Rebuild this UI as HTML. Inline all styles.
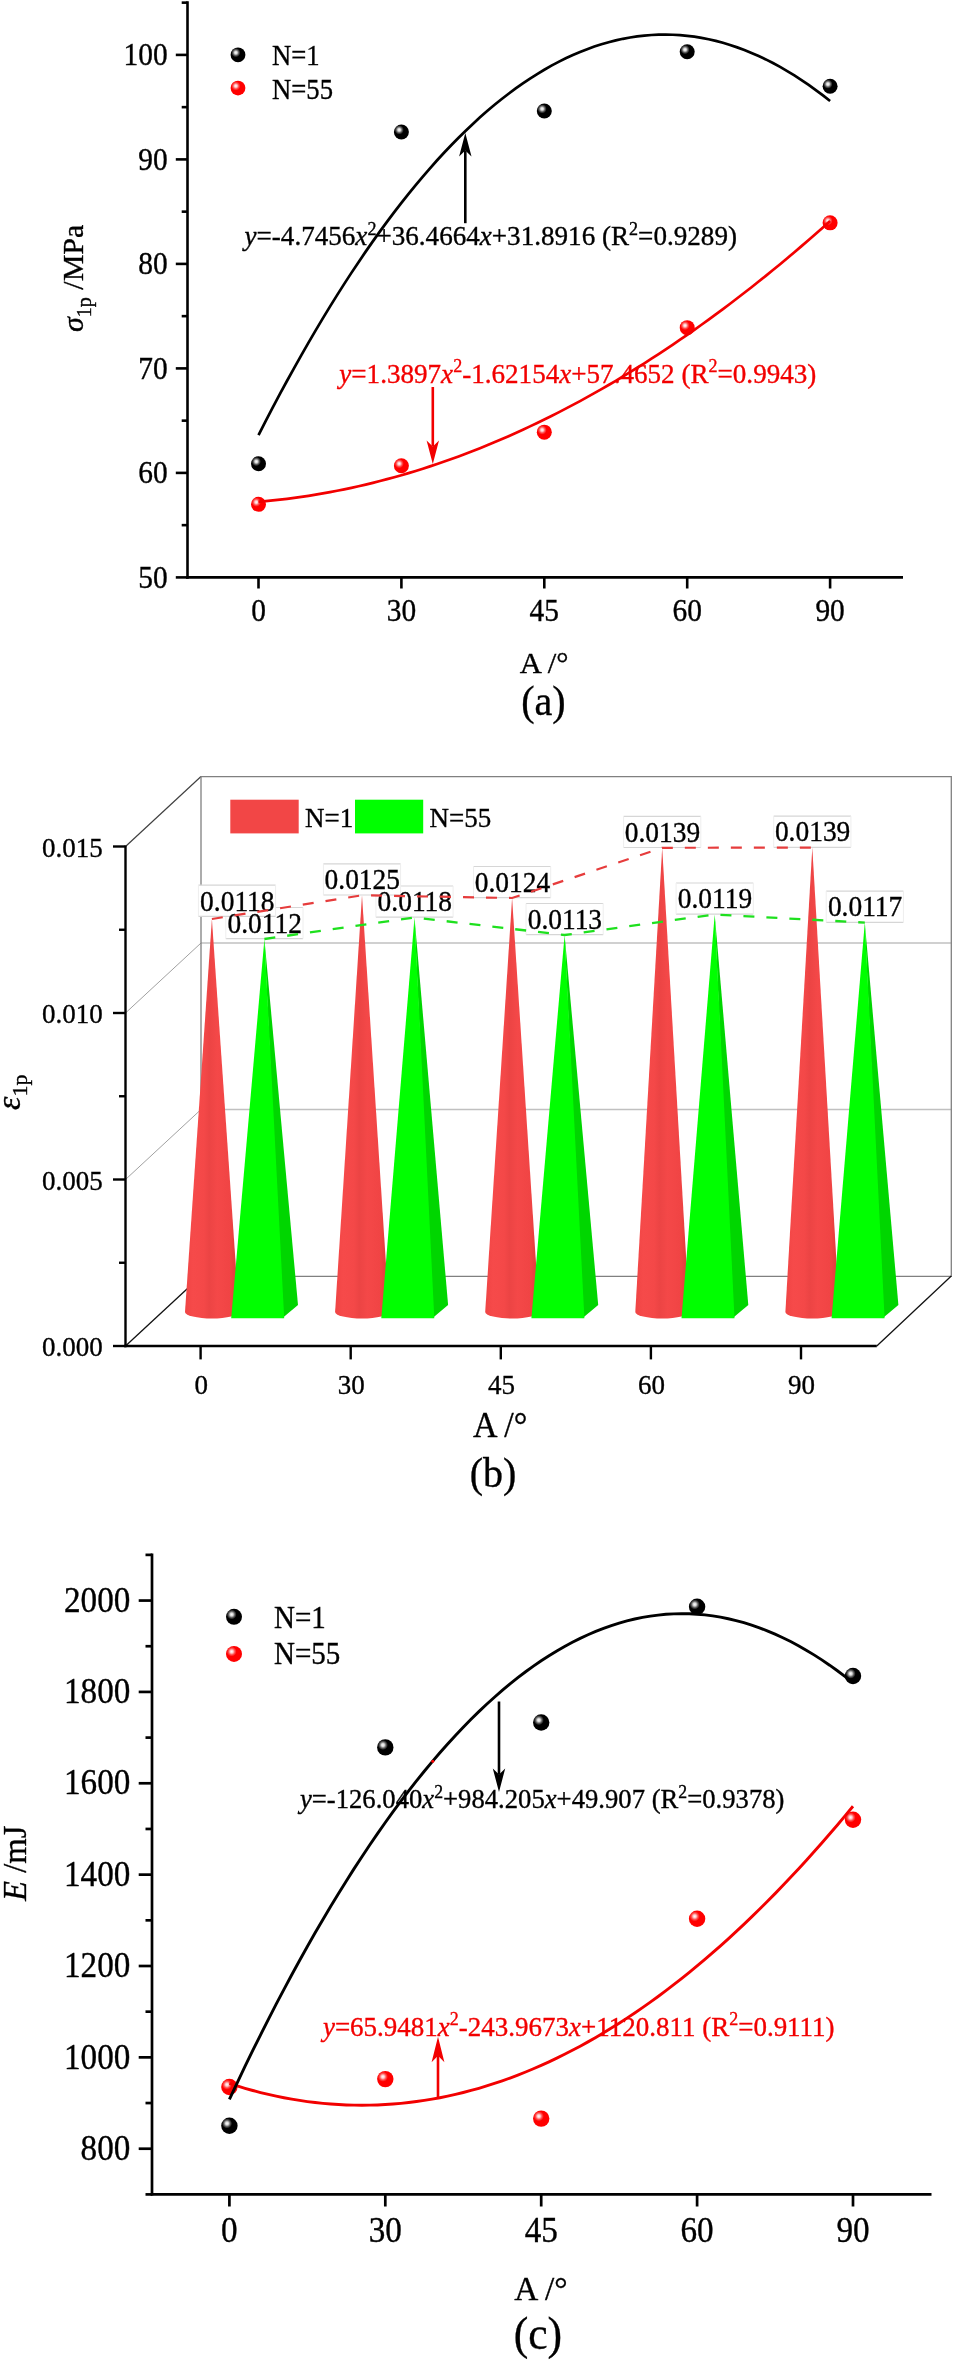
<!DOCTYPE html><html><head><meta charset="utf-8"><style>html,body{margin:0;padding:0;background:#fff;}svg{display:block;}text{font-family:'Liberation Serif', serif;stroke-width:0.35px;}svg{will-change:transform;}</style></head><body>
<svg width="954" height="2360" viewBox="0 0 954 2360">
<defs>
<radialGradient id="gHiK"><stop offset="0" stop-color="#fff" stop-opacity="1"/><stop offset="0.3" stop-color="#fff" stop-opacity="0.85"/><stop offset="0.65" stop-color="#fff" stop-opacity="0.35"/><stop offset="1" stop-color="#fff" stop-opacity="0"/></radialGradient>
<radialGradient id="gHiR"><stop offset="0" stop-color="#fff" stop-opacity="1"/><stop offset="0.3" stop-color="#fff" stop-opacity="0.8"/><stop offset="0.65" stop-color="#fff" stop-opacity="0.3"/><stop offset="1" stop-color="#fff" stop-opacity="0"/></radialGradient>
<linearGradient id="gCone" x1="0" y1="0" x2="1" y2="0">
<stop offset="0" stop-color="#f04444"/><stop offset="0.15" stop-color="#f64a4a"/><stop offset="0.35" stop-color="#f44848"/><stop offset="0.45" stop-color="#ec4444"/><stop offset="0.6" stop-color="#f44848"/><stop offset="0.85" stop-color="#f04444"/><stop offset="1" stop-color="#d83838"/></linearGradient>
</defs>
<line x1="187.5" y1="1.3" x2="187.5" y2="578.7" stroke="#000" stroke-width="2.6"/>
<line x1="186.2" y1="577.4" x2="903" y2="577.4" stroke="#000" stroke-width="2.6"/>
<line x1="175.8" y1="577.40" x2="187.5" y2="577.40" stroke="#000" stroke-width="2.6"/>
<text transform="translate(167.60,587.50) scale(0.98,1.075)" font-size="30" text-anchor="end" stroke="#000">50</text>
<line x1="181.7" y1="525.15" x2="187.5" y2="525.15" stroke="#000" stroke-width="2.6"/>
<line x1="175.8" y1="472.90" x2="187.5" y2="472.90" stroke="#000" stroke-width="2.6"/>
<text transform="translate(167.60,483.00) scale(0.98,1.075)" font-size="30" text-anchor="end" stroke="#000">60</text>
<line x1="181.7" y1="420.65" x2="187.5" y2="420.65" stroke="#000" stroke-width="2.6"/>
<line x1="175.8" y1="368.40" x2="187.5" y2="368.40" stroke="#000" stroke-width="2.6"/>
<text transform="translate(167.60,378.50) scale(0.98,1.075)" font-size="30" text-anchor="end" stroke="#000">70</text>
<line x1="181.7" y1="316.15" x2="187.5" y2="316.15" stroke="#000" stroke-width="2.6"/>
<line x1="175.8" y1="263.90" x2="187.5" y2="263.90" stroke="#000" stroke-width="2.6"/>
<text transform="translate(167.60,274.00) scale(0.98,1.075)" font-size="30" text-anchor="end" stroke="#000">80</text>
<line x1="181.7" y1="211.65" x2="187.5" y2="211.65" stroke="#000" stroke-width="2.6"/>
<line x1="175.8" y1="159.40" x2="187.5" y2="159.40" stroke="#000" stroke-width="2.6"/>
<text transform="translate(167.60,169.50) scale(0.98,1.075)" font-size="30" text-anchor="end" stroke="#000">90</text>
<line x1="181.7" y1="107.15" x2="187.5" y2="107.15" stroke="#000" stroke-width="2.6"/>
<line x1="175.8" y1="54.90" x2="187.5" y2="54.90" stroke="#000" stroke-width="2.6"/>
<text transform="translate(167.60,65.00) scale(0.98,1.075)" font-size="30" text-anchor="end" stroke="#000">100</text>
<line x1="181.7" y1="2.65" x2="187.5" y2="2.65" stroke="#000" stroke-width="2.6"/>
<line x1="258.50" y1="577.4" x2="258.50" y2="588.5" stroke="#000" stroke-width="2.6"/>
<text transform="translate(258.50,620.90) scale(0.98,1.075)" font-size="30" text-anchor="middle" stroke="#000">0</text>
<line x1="401.40" y1="577.4" x2="401.40" y2="588.5" stroke="#000" stroke-width="2.6"/>
<text transform="translate(401.40,620.90) scale(0.98,1.075)" font-size="30" text-anchor="middle" stroke="#000">30</text>
<line x1="544.30" y1="577.4" x2="544.30" y2="588.5" stroke="#000" stroke-width="2.6"/>
<text transform="translate(544.30,620.90) scale(0.98,1.075)" font-size="30" text-anchor="middle" stroke="#000">45</text>
<line x1="687.20" y1="577.4" x2="687.20" y2="588.5" stroke="#000" stroke-width="2.6"/>
<text transform="translate(687.20,620.90) scale(0.98,1.075)" font-size="30" text-anchor="middle" stroke="#000">60</text>
<line x1="830.10" y1="577.4" x2="830.10" y2="588.5" stroke="#000" stroke-width="2.6"/>
<text transform="translate(830.10,620.90) scale(0.98,1.075)" font-size="30" text-anchor="middle" stroke="#000">90</text>
<circle cx="258.50" cy="463.70" r="7.5" fill="#000"/><circle cx="256.32" cy="461.53" r="4.65" fill="url(#gHiK)"/>
<circle cx="401.40" cy="132.02" r="7.5" fill="#000"/><circle cx="399.22" cy="129.85" r="4.65" fill="url(#gHiK)"/>
<circle cx="544.30" cy="111.02" r="7.5" fill="#000"/><circle cx="542.12" cy="108.84" r="4.65" fill="url(#gHiK)"/>
<circle cx="687.20" cy="51.76" r="7.5" fill="#000"/><circle cx="685.03" cy="49.59" r="4.65" fill="url(#gHiK)"/>
<circle cx="830.10" cy="86.25" r="7.5" fill="#000"/><circle cx="827.93" cy="84.08" r="4.65" fill="url(#gHiK)"/>
<circle cx="258.50" cy="504.35" r="7.5" fill="#ff0000"/><circle cx="256.32" cy="502.18" r="4.65" fill="url(#gHiR)"/>
<circle cx="401.40" cy="465.79" r="7.5" fill="#ff0000"/><circle cx="399.22" cy="463.62" r="4.65" fill="url(#gHiR)"/>
<circle cx="544.30" cy="432.14" r="7.5" fill="#ff0000"/><circle cx="542.12" cy="429.97" r="4.65" fill="url(#gHiR)"/>
<circle cx="687.20" cy="327.64" r="7.5" fill="#ff0000"/><circle cx="685.03" cy="325.47" r="4.65" fill="url(#gHiR)"/>
<circle cx="830.10" cy="222.83" r="7.5" fill="#ff0000"/><circle cx="827.93" cy="220.66" r="4.65" fill="url(#gHiR)"/>
<path d="M258.50,435.15 L265.64,421.18 L272.79,407.46 L279.94,393.98 L287.08,380.76 L294.23,367.78 L301.37,355.05 L308.51,342.56 L315.66,330.33 L322.81,318.34 L329.95,306.60 L337.10,295.11 L344.24,283.87 L351.38,272.87 L358.53,262.13 L365.68,251.63 L372.82,241.38 L379.97,231.37 L387.11,221.62 L394.25,212.11 L401.40,202.85 L408.54,193.84 L415.69,185.08 L422.84,176.56 L429.98,168.29 L437.12,160.27 L444.27,152.50 L451.42,144.98 L458.56,137.70 L465.71,130.67 L472.85,123.90 L480.00,117.36 L487.14,111.08 L494.28,105.04 L501.43,99.26 L508.58,93.72 L515.72,88.42 L522.87,83.38 L530.01,78.58 L537.15,74.04 L544.30,69.73 L551.44,65.68 L558.59,61.88 L565.74,58.32 L572.88,55.01 L580.03,51.95 L587.17,49.14 L594.32,46.58 L601.46,44.26 L608.61,42.19 L615.75,40.37 L622.89,38.80 L630.04,37.47 L637.18,36.40 L644.33,35.57 L651.48,34.99 L658.62,34.65 L665.77,34.57 L672.91,34.73 L680.06,35.14 L687.20,35.80 L694.35,36.71 L701.49,37.86 L708.63,39.27 L715.78,40.92 L722.92,42.82 L730.07,44.96 L737.21,47.36 L744.36,50.00 L751.51,52.89 L758.65,56.03 L765.80,59.42 L772.94,63.05 L780.09,66.93 L787.23,71.06 L794.38,75.44 L801.52,80.07 L808.66,84.94 L815.81,90.06 L822.96,95.43 L830.10,101.05" fill="none" stroke="#000" stroke-width="2.7" />
<path d="M258.50,501.81 L265.64,501.17 L272.79,500.46 L279.94,499.67 L287.08,498.81 L294.23,497.88 L301.37,496.87 L308.51,495.80 L315.66,494.65 L322.81,493.43 L329.95,492.13 L337.10,490.76 L344.24,489.32 L351.38,487.81 L358.53,486.23 L365.68,484.57 L372.82,482.84 L379.97,481.03 L387.11,479.16 L394.25,477.21 L401.40,475.19 L408.54,473.10 L415.69,470.93 L422.84,468.69 L429.98,466.38 L437.12,464.00 L444.27,461.54 L451.42,459.01 L458.56,456.41 L465.71,453.73 L472.85,450.99 L480.00,448.17 L487.14,445.27 L494.28,442.31 L501.43,439.27 L508.58,436.16 L515.72,432.98 L522.87,429.72 L530.01,426.40 L537.15,423.00 L544.30,419.52 L551.44,415.98 L558.59,412.36 L565.74,408.67 L572.88,404.90 L580.03,401.07 L587.17,397.16 L594.32,393.18 L601.46,389.12 L608.61,385.00 L615.75,380.80 L622.89,376.53 L630.04,372.18 L637.18,367.76 L644.33,363.27 L651.48,358.71 L658.62,354.08 L665.77,349.37 L672.91,344.59 L680.06,339.74 L687.20,334.81 L694.35,329.81 L701.49,324.74 L708.63,319.60 L715.78,314.38 L722.92,309.10 L730.07,303.73 L737.21,298.30 L744.36,292.79 L751.51,287.22 L758.65,281.56 L765.80,275.84 L772.94,270.04 L780.09,264.17 L787.23,258.23 L794.38,252.22 L801.52,246.13 L808.66,239.97 L815.81,233.74 L822.96,227.43 L830.10,221.06" fill="none" stroke="#f20000" stroke-width="2.7" />
<circle cx="238.00" cy="54.80" r="7.4" fill="#000"/><circle cx="235.85" cy="52.65" r="4.59" fill="url(#gHiK)"/>
<circle cx="238.00" cy="88.10" r="7.4" fill="#ff0000"/><circle cx="235.85" cy="85.95" r="4.59" fill="url(#gHiR)"/>
<text transform="translate(272.00,65.20) scale(0.92,1.0)" font-size="29" stroke="#000">N=1</text>
<text transform="translate(272.00,98.70) scale(0.92,1.0)" font-size="29" stroke="#000">N=55</text>
<text transform="translate(244.50,245.40) scale(1.004,1.03)" font-size="27" stroke="#000"><tspan font-style="italic">y</tspan><tspan>=-4.7456</tspan><tspan font-style="italic">x</tspan><tspan font-size="18" dy="-10">2</tspan><tspan dy="10">+36.4664</tspan><tspan font-style="italic">x</tspan><tspan>+31.8916 (R</tspan><tspan font-size="18" dy="-10">2</tspan><tspan dy="10">=0.9289)</tspan></text>
<line x1="465.3" y1="223.2" x2="465.3" y2="150.5" stroke="#000" stroke-width="2.6"/><path d="M465.3,133 L459.1,156.5 L465.3,150.5 L471.5,156.5 Z" fill="#000"/>
<text transform="translate(339.30,382.70) scale(1.004,1.05)" font-size="27" fill="#f20000" stroke="#f20000"><tspan font-style="italic">y</tspan><tspan>=1.3897</tspan><tspan font-style="italic">x</tspan><tspan font-size="18" dy="-10">2</tspan><tspan dy="10">-1.62154</tspan><tspan font-style="italic">x</tspan><tspan>+57.4652 (R</tspan><tspan font-size="18" dy="-10">2</tspan><tspan dy="10">=0.9943)</tspan></text>
<line x1="432.8" y1="387" x2="432.8" y2="446.4" stroke="#f20000" stroke-width="2.6"/><path d="M432.8,463.9 L426.6,440.4 L432.8,446.4 L439.0,440.4 Z" fill="#f20000"/>
<text transform="translate(83.00,332.00) rotate(-90)" font-size="30" stroke="#000"><tspan font-style="italic">σ</tspan><tspan font-size="20" dy="8">1p</tspan><tspan dy="-8"> /MPa</tspan></text>
<text transform="translate(544.10,673.20) scale(1.02,1.0)" font-size="30" text-anchor="middle" stroke="#000">A /°</text>
<text transform="translate(543.40,715.40) scale(0.96,1.0)" font-size="41.7" text-anchor="middle" stroke="#000">(a)</text>
<line x1="125.5" y1="1179.5" x2="201.0" y2="1109.5" stroke="#a0a0a0" stroke-width="1.0"/>
<line x1="201.0" y1="1109.5" x2="951.3" y2="1109.5" stroke="#c0c0c0" stroke-width="1.4"/>
<line x1="125.5" y1="1013.0" x2="201.0" y2="943.0" stroke="#a0a0a0" stroke-width="1.0"/>
<line x1="201.0" y1="943.0" x2="951.3" y2="943.0" stroke="#c0c0c0" stroke-width="1.4"/>
<line x1="125.5" y1="846.5" x2="201.0" y2="776.5" stroke="#404040" stroke-width="1.2"/>
<path d="M201.0,776.6 H951.3 V1276.4 H201.0 Z" fill="none" stroke="#808080" stroke-width="1.3"/>
<line x1="125.5" y1="1346" x2="201.0" y2="1276" stroke="#111" stroke-width="1.3"/>
<line x1="876.8" y1="1346" x2="951.3" y2="1276" stroke="#111" stroke-width="1.3"/>
<line x1="125.5" y1="845.5" x2="125.5" y2="1347.2" stroke="#000" stroke-width="2.4"/>
<line x1="124.3" y1="1346" x2="876.8" y2="1346" stroke="#000" stroke-width="2.5"/>
<line x1="113.0" y1="1346.00" x2="125.5" y2="1346.00" stroke="#000" stroke-width="2.4"/>
<text transform="translate(102.80,1356.30) scale(1.0,1.02)" font-size="27" text-anchor="end" stroke="#000">0.000</text>
<line x1="119.0" y1="1262.75" x2="125.5" y2="1262.75" stroke="#000" stroke-width="2.4"/>
<line x1="113.0" y1="1179.50" x2="125.5" y2="1179.50" stroke="#000" stroke-width="2.4"/>
<text transform="translate(102.80,1189.80) scale(1.0,1.02)" font-size="27" text-anchor="end" stroke="#000">0.005</text>
<line x1="119.0" y1="1096.25" x2="125.5" y2="1096.25" stroke="#000" stroke-width="2.4"/>
<line x1="113.0" y1="1013.00" x2="125.5" y2="1013.00" stroke="#000" stroke-width="2.4"/>
<text transform="translate(102.80,1023.30) scale(1.0,1.02)" font-size="27" text-anchor="end" stroke="#000">0.010</text>
<line x1="119.0" y1="929.75" x2="125.5" y2="929.75" stroke="#000" stroke-width="2.4"/>
<line x1="113.0" y1="846.50" x2="125.5" y2="846.50" stroke="#000" stroke-width="2.4"/>
<text transform="translate(102.80,856.80) scale(1.0,1.02)" font-size="27" text-anchor="end" stroke="#000">0.015</text>
<line x1="200.60" y1="1346" x2="200.60" y2="1359.4" stroke="#000" stroke-width="2.4"/>
<text transform="translate(201.20,1393.90) scale(1.0,1.02)" font-size="27" text-anchor="middle" stroke="#000">0</text>
<line x1="350.70" y1="1346" x2="350.70" y2="1359.4" stroke="#000" stroke-width="2.4"/>
<text transform="translate(351.30,1393.90) scale(1.0,1.02)" font-size="27" text-anchor="middle" stroke="#000">30</text>
<line x1="500.80" y1="1346" x2="500.80" y2="1359.4" stroke="#000" stroke-width="2.4"/>
<text transform="translate(501.40,1393.90) scale(1.0,1.02)" font-size="27" text-anchor="middle" stroke="#000">45</text>
<line x1="650.90" y1="1346" x2="650.90" y2="1359.4" stroke="#000" stroke-width="2.4"/>
<text transform="translate(651.50,1393.90) scale(1.0,1.02)" font-size="27" text-anchor="middle" stroke="#000">60</text>
<line x1="801.00" y1="1346" x2="801.00" y2="1359.4" stroke="#000" stroke-width="2.4"/>
<text transform="translate(801.60,1393.90) scale(1.0,1.02)" font-size="27" text-anchor="middle" stroke="#000">90</text>
<path d="M211.9,919.0 L185.0,1311.9 A27.0,6.6 0 0 0 239.0,1311.9 Z" fill="url(#gCone)"/>
<path d="M264.4,939.0 L282.2,1318.3 L298.0,1305.0 Z" fill="#00d600"/>
<path d="M264.4,939.0 L231.2,1318.3 L284.2,1318.3 Z" fill="#00ff00"/>
<path d="M362.0,895.3 L335.1,1311.9 A27.0,6.6 0 0 0 389.1,1311.9 Z" fill="url(#gCone)"/>
<path d="M414.5,917.5 L432.3,1318.3 L448.1,1305.0 Z" fill="#00d600"/>
<path d="M414.5,917.5 L381.3,1318.3 L434.3,1318.3 Z" fill="#00ff00"/>
<path d="M512.1,898.0 L485.2,1311.9 A27.0,6.6 0 0 0 539.2,1311.9 Z" fill="url(#gCone)"/>
<path d="M564.6,935.0 L582.4,1318.3 L598.2,1305.0 Z" fill="#00d600"/>
<path d="M564.6,935.0 L531.4,1318.3 L584.4,1318.3 Z" fill="#00ff00"/>
<path d="M662.2,847.8 L635.3,1311.9 A27.0,6.6 0 0 0 689.3,1311.9 Z" fill="url(#gCone)"/>
<path d="M714.7,914.5 L732.5,1318.3 L748.3,1305.0 Z" fill="#00d600"/>
<path d="M714.7,914.5 L681.5,1318.3 L734.5,1318.3 Z" fill="#00ff00"/>
<path d="M812.3,847.6 L785.4,1311.9 A27.0,6.6 0 0 0 839.4,1311.9 Z" fill="url(#gCone)"/>
<path d="M864.8,922.6 L882.6,1318.3 L898.4,1305.0 Z" fill="#00d600"/>
<path d="M864.8,922.6 L831.6,1318.3 L884.6,1318.3 Z" fill="#00ff00"/>
<rect x="225.8" y="907.5" width="77.2" height="31.2" fill="#fff"/><path d="M225.8,907.5 H303.0 M225.8,938.7 H303.0" stroke="#d6d6d6" stroke-width="1.2" fill="none"/><path d="M225.8,907.5 V938.7 M303.0,907.5 V938.7" stroke="#eeeeee" stroke-width="1" fill="none"/>
<rect x="375.9" y="886.0" width="77.2" height="31.2" fill="#fff"/><path d="M375.9,886.0 H453.1 M375.9,917.2 H453.1" stroke="#d6d6d6" stroke-width="1.2" fill="none"/><path d="M375.9,886.0 V917.2 M453.1,886.0 V917.2" stroke="#eeeeee" stroke-width="1" fill="none"/>
<rect x="526.0" y="903.5" width="77.2" height="31.2" fill="#fff"/><path d="M526.0,903.5 H603.2 M526.0,934.7 H603.2" stroke="#d6d6d6" stroke-width="1.2" fill="none"/><path d="M526.0,903.5 V934.7 M603.2,903.5 V934.7" stroke="#eeeeee" stroke-width="1" fill="none"/>
<rect x="676.1" y="883.0" width="77.2" height="31.2" fill="#fff"/><path d="M676.1,883.0 H753.3 M676.1,914.2 H753.3" stroke="#d6d6d6" stroke-width="1.2" fill="none"/><path d="M676.1,883.0 V914.2 M753.3,883.0 V914.2" stroke="#eeeeee" stroke-width="1" fill="none"/>
<rect x="826.2" y="891.1" width="77.2" height="31.2" fill="#fff"/><path d="M826.2,891.1 H903.4 M826.2,922.3 H903.4" stroke="#d6d6d6" stroke-width="1.2" fill="none"/><path d="M826.2,891.1 V922.3 M903.4,891.1 V922.3" stroke="#eeeeee" stroke-width="1" fill="none"/>
<rect x="198.4" y="885.2" width="77.2" height="31.2" fill="#fff"/><path d="M198.4,885.2 H275.6 M198.4,916.4 H275.6" stroke="#d6d6d6" stroke-width="1.2" fill="none"/><path d="M198.4,885.2 V916.4 M275.6,885.2 V916.4" stroke="#eeeeee" stroke-width="1" fill="none"/>
<rect x="323.4" y="863.8" width="77.2" height="31.2" fill="#fff"/><path d="M323.4,863.8 H400.6 M323.4,895.0 H400.6" stroke="#d6d6d6" stroke-width="1.2" fill="none"/><path d="M323.4,863.8 V895.0 M400.6,863.8 V895.0" stroke="#eeeeee" stroke-width="1" fill="none"/>
<rect x="473.5" y="866.5" width="77.2" height="31.2" fill="#fff"/><path d="M473.5,866.5 H550.7 M473.5,897.7 H550.7" stroke="#d6d6d6" stroke-width="1.2" fill="none"/><path d="M473.5,866.5 V897.7 M550.7,866.5 V897.7" stroke="#eeeeee" stroke-width="1" fill="none"/>
<rect x="623.6" y="816.3" width="77.2" height="31.2" fill="#fff"/><path d="M623.6,816.3 H700.8 M623.6,847.5 H700.8" stroke="#d6d6d6" stroke-width="1.2" fill="none"/><path d="M623.6,816.3 V847.5 M700.8,816.3 V847.5" stroke="#eeeeee" stroke-width="1" fill="none"/>
<rect x="773.7" y="816.1" width="77.2" height="31.2" fill="#fff"/><path d="M773.7,816.1 H850.9 M773.7,847.3 H850.9" stroke="#d6d6d6" stroke-width="1.2" fill="none"/><path d="M773.7,816.1 V847.3 M850.9,816.1 V847.3" stroke="#eeeeee" stroke-width="1" fill="none"/>
<text transform="translate(264.70,932.80) scale(0.98,1.03)" font-size="28" text-anchor="middle" stroke="#000">0.0112</text>
<text transform="translate(414.80,911.30) scale(0.98,1.03)" font-size="28" text-anchor="middle" stroke="#000">0.0118</text>
<text transform="translate(564.90,928.80) scale(0.98,1.03)" font-size="28" text-anchor="middle" stroke="#000">0.0113</text>
<text transform="translate(715.00,908.30) scale(0.98,1.03)" font-size="28" text-anchor="middle" stroke="#000">0.0119</text>
<text transform="translate(865.10,916.40) scale(0.98,1.03)" font-size="28" text-anchor="middle" stroke="#000">0.0117</text>
<text transform="translate(237.30,910.50) scale(0.98,1.03)" font-size="28" text-anchor="middle" stroke="#000">0.0118</text>
<text transform="translate(362.30,889.10) scale(0.98,1.03)" font-size="28" text-anchor="middle" stroke="#000">0.0125</text>
<text transform="translate(512.40,891.80) scale(0.98,1.03)" font-size="28" text-anchor="middle" stroke="#000">0.0124</text>
<text transform="translate(662.50,841.60) scale(0.98,1.03)" font-size="28" text-anchor="middle" stroke="#000">0.0139</text>
<text transform="translate(812.60,841.40) scale(0.98,1.03)" font-size="28" text-anchor="middle" stroke="#000">0.0139</text>
<path d="M211.90,919.00 L362.00,895.30 L512.10,898.00 L662.20,847.80 L812.30,847.60" fill="none" stroke="#e63c3c" stroke-width="2.2" stroke-dasharray="11 12"/>
<path d="M264.40,939.00 L414.50,917.50 L564.60,935.00 L714.70,914.50 L864.80,922.60" fill="none" stroke="#1ee01e" stroke-width="2.3" stroke-dasharray="11 12"/>
<rect x="230.3" y="799.7" width="68.4" height="33.7" fill="#f24646"/>
<text transform="translate(305.00,826.80) scale(1.0,1.05)" font-size="27" stroke="#000">N=1</text>
<rect x="355" y="799.7" width="68.2" height="33.7" fill="#00ff00"/>
<text transform="translate(429.50,826.80) scale(1.0,1.05)" font-size="27" stroke="#000">N=55</text>
<text transform="translate(20.00,1110.00) rotate(-90)" font-size="34" stroke="#000"><tspan font-style="italic">ε</tspan><tspan font-size="22" dy="6.5">1p</tspan></text>
<text transform="translate(500.20,1437.00) scale(0.95,1.0)" font-size="35.8" text-anchor="middle" stroke="#000">A /°</text>
<text transform="translate(493.10,1487.00) scale(0.96,1.0)" font-size="41.7" text-anchor="middle" stroke="#000">(b)</text>
<line x1="152" y1="1553.4" x2="152" y2="2195.6" stroke="#000" stroke-width="2.7"/>
<line x1="150.7" y1="2194.4" x2="931.5" y2="2194.4" stroke="#000" stroke-width="2.7"/>
<line x1="145.5" y1="2194.40" x2="152" y2="2194.40" stroke="#000" stroke-width="2.7"/>
<line x1="138.7" y1="2148.72" x2="152" y2="2148.72" stroke="#000" stroke-width="2.7"/>
<text transform="translate(130.30,2159.92) scale(0.99,1.075)" font-size="33.5" text-anchor="end" stroke="#000">800</text>
<line x1="145.5" y1="2103.04" x2="152" y2="2103.04" stroke="#000" stroke-width="2.7"/>
<line x1="138.7" y1="2057.36" x2="152" y2="2057.36" stroke="#000" stroke-width="2.7"/>
<text transform="translate(130.30,2068.56) scale(0.99,1.075)" font-size="33.5" text-anchor="end" stroke="#000">1000</text>
<line x1="145.5" y1="2011.68" x2="152" y2="2011.68" stroke="#000" stroke-width="2.7"/>
<line x1="138.7" y1="1966.00" x2="152" y2="1966.00" stroke="#000" stroke-width="2.7"/>
<text transform="translate(130.30,1977.20) scale(0.99,1.075)" font-size="33.5" text-anchor="end" stroke="#000">1200</text>
<line x1="145.5" y1="1920.32" x2="152" y2="1920.32" stroke="#000" stroke-width="2.7"/>
<line x1="138.7" y1="1874.64" x2="152" y2="1874.64" stroke="#000" stroke-width="2.7"/>
<text transform="translate(130.30,1885.84) scale(0.99,1.075)" font-size="33.5" text-anchor="end" stroke="#000">1400</text>
<line x1="145.5" y1="1828.96" x2="152" y2="1828.96" stroke="#000" stroke-width="2.7"/>
<line x1="138.7" y1="1783.28" x2="152" y2="1783.28" stroke="#000" stroke-width="2.7"/>
<text transform="translate(130.30,1794.48) scale(0.99,1.075)" font-size="33.5" text-anchor="end" stroke="#000">1600</text>
<line x1="145.5" y1="1737.60" x2="152" y2="1737.60" stroke="#000" stroke-width="2.7"/>
<line x1="138.7" y1="1691.92" x2="152" y2="1691.92" stroke="#000" stroke-width="2.7"/>
<text transform="translate(130.30,1703.12) scale(0.99,1.075)" font-size="33.5" text-anchor="end" stroke="#000">1800</text>
<line x1="145.5" y1="1646.24" x2="152" y2="1646.24" stroke="#000" stroke-width="2.7"/>
<line x1="138.7" y1="1600.56" x2="152" y2="1600.56" stroke="#000" stroke-width="2.7"/>
<text transform="translate(130.30,1611.76) scale(0.99,1.075)" font-size="33.5" text-anchor="end" stroke="#000">2000</text>
<line x1="145.5" y1="1554.88" x2="152" y2="1554.88" stroke="#000" stroke-width="2.7"/>
<line x1="229.40" y1="2194.4" x2="229.40" y2="2206.5" stroke="#000" stroke-width="2.7"/>
<text transform="translate(229.40,2241.80) scale(0.99,1.075)" font-size="33.5" text-anchor="middle" stroke="#000">0</text>
<line x1="385.30" y1="2194.4" x2="385.30" y2="2206.5" stroke="#000" stroke-width="2.7"/>
<text transform="translate(385.30,2241.80) scale(0.99,1.075)" font-size="33.5" text-anchor="middle" stroke="#000">30</text>
<line x1="541.20" y1="2194.4" x2="541.20" y2="2206.5" stroke="#000" stroke-width="2.7"/>
<text transform="translate(541.20,2241.80) scale(0.99,1.075)" font-size="33.5" text-anchor="middle" stroke="#000">45</text>
<line x1="697.10" y1="2194.4" x2="697.10" y2="2206.5" stroke="#000" stroke-width="2.7"/>
<text transform="translate(697.10,2241.80) scale(0.99,1.075)" font-size="33.5" text-anchor="middle" stroke="#000">60</text>
<line x1="853.00" y1="2194.4" x2="853.00" y2="2206.5" stroke="#000" stroke-width="2.7"/>
<text transform="translate(853.00,2241.80) scale(0.99,1.075)" font-size="33.5" text-anchor="middle" stroke="#000">90</text>
<circle cx="229.40" cy="2125.80" r="8.2" fill="#000"/><circle cx="227.02" cy="2123.42" r="5.08" fill="url(#gHiK)"/>
<circle cx="385.30" cy="1747.40" r="8.2" fill="#000"/><circle cx="382.92" cy="1745.02" r="5.08" fill="url(#gHiK)"/>
<circle cx="541.20" cy="1722.50" r="8.2" fill="#000"/><circle cx="538.82" cy="1720.12" r="5.08" fill="url(#gHiK)"/>
<circle cx="697.10" cy="1606.80" r="8.2" fill="#000"/><circle cx="694.72" cy="1604.42" r="5.08" fill="url(#gHiK)"/>
<circle cx="853.00" cy="1676.00" r="8.2" fill="#000"/><circle cx="850.62" cy="1673.62" r="5.08" fill="url(#gHiK)"/>
<circle cx="229.40" cy="2087.00" r="8.2" fill="#ff0000"/><circle cx="227.02" cy="2084.62" r="5.08" fill="url(#gHiR)"/>
<circle cx="385.30" cy="2079.10" r="8.2" fill="#ff0000"/><circle cx="382.92" cy="2076.72" r="5.08" fill="url(#gHiR)"/>
<circle cx="541.20" cy="2118.60" r="8.2" fill="#ff0000"/><circle cx="538.82" cy="2116.22" r="5.08" fill="url(#gHiR)"/>
<circle cx="697.10" cy="1918.70" r="8.2" fill="#ff0000"/><circle cx="694.72" cy="1916.32" r="5.08" fill="url(#gHiR)"/>
<circle cx="853.00" cy="1819.80" r="8.2" fill="#ff0000"/><circle cx="850.62" cy="1817.42" r="5.08" fill="url(#gHiR)"/>
<path d="M229.40,2083.49 L237.20,2085.98 L244.99,2088.31 L252.78,2090.49 L260.58,2092.53 L268.38,2094.41 L276.17,2096.14 L283.97,2097.72 L291.76,2099.15 L299.56,2100.43 L307.35,2101.56 L315.14,2102.54 L322.94,2103.36 L330.74,2104.04 L338.53,2104.57 L346.33,2104.94 L354.12,2105.17 L361.92,2105.24 L369.71,2105.17 L377.50,2104.94 L385.30,2104.56 L393.09,2104.03 L400.89,2103.35 L408.69,2102.53 L416.48,2101.55 L424.27,2100.41 L432.07,2099.13 L439.87,2097.70 L447.66,2096.12 L455.46,2094.39 L463.25,2092.50 L471.04,2090.47 L478.84,2088.28 L486.63,2085.95 L494.43,2083.46 L502.23,2080.82 L510.02,2078.04 L517.82,2075.10 L525.61,2072.01 L533.41,2068.77 L541.20,2065.38 L549.00,2061.84 L556.79,2058.15 L564.59,2054.31 L572.38,2050.31 L580.18,2046.17 L587.97,2041.88 L595.76,2037.43 L603.56,2032.84 L611.36,2028.09 L619.15,2023.20 L626.94,2018.15 L634.74,2012.95 L642.53,2007.60 L650.33,2002.10 L658.12,1996.46 L665.92,1990.66 L673.72,1984.70 L681.51,1978.60 L689.31,1972.35 L697.10,1965.95 L704.89,1959.40 L712.69,1952.69 L720.49,1945.84 L728.28,1938.83 L736.08,1931.68 L743.87,1924.37 L751.66,1916.91 L759.46,1909.31 L767.25,1901.55 L775.05,1893.64 L782.84,1885.58 L790.64,1877.37 L798.44,1869.01 L806.23,1860.50 L814.02,1851.84 L821.82,1843.02 L829.61,1834.06 L837.41,1824.95 L845.21,1815.68 L853.00,1806.27" fill="none" stroke="#f20000" stroke-width="2.9" />
<path d="M229.40,2099.35 L237.20,2082.77 L244.99,2066.48 L252.78,2050.48 L260.58,2034.77 L268.38,2019.34 L276.17,2004.20 L283.97,1989.35 L291.76,1974.79 L299.56,1960.52 L307.35,1946.53 L315.14,1932.83 L322.94,1919.42 L330.74,1906.30 L338.53,1893.46 L346.33,1880.91 L354.12,1868.65 L361.92,1856.68 L369.71,1845.00 L377.50,1833.60 L385.30,1822.49 L393.09,1811.67 L400.89,1801.14 L408.69,1790.90 L416.48,1780.94 L424.27,1771.27 L432.07,1761.89 L439.87,1752.80 L447.66,1743.99 L455.46,1735.47 L463.25,1727.24 L471.04,1719.30 L478.84,1711.65 L486.63,1704.28 L494.43,1697.21 L502.23,1690.42 L510.02,1683.91 L517.82,1677.70 L525.61,1671.77 L533.41,1666.13 L541.20,1660.78 L549.00,1655.72 L556.79,1650.95 L564.59,1646.46 L572.38,1642.26 L580.18,1638.35 L587.97,1634.73 L595.76,1631.39 L603.56,1628.34 L611.36,1625.58 L619.15,1623.11 L626.94,1620.93 L634.74,1619.03 L642.53,1617.42 L650.33,1616.10 L658.12,1615.07 L665.92,1614.32 L673.72,1613.87 L681.51,1613.70 L689.31,1613.82 L697.10,1614.22 L704.89,1614.92 L712.69,1615.90 L720.49,1617.17 L728.28,1618.73 L736.08,1620.58 L743.87,1622.71 L751.66,1625.13 L759.46,1627.84 L767.25,1630.84 L775.05,1634.13 L782.84,1637.70 L790.64,1641.56 L798.44,1645.71 L806.23,1650.15 L814.02,1654.87 L821.82,1659.88 L829.61,1665.19 L837.41,1670.77 L845.21,1676.65 L853.00,1682.82" fill="none" stroke="#000" stroke-width="2.9" />
<circle cx="432.8" cy="1761.3" r="1.5" fill="#ff0000"/>
<circle cx="234.00" cy="1616.80" r="8.0" fill="#000"/><circle cx="231.68" cy="1614.48" r="4.96" fill="url(#gHiK)"/>
<circle cx="234.00" cy="1653.90" r="8.0" fill="#ff0000"/><circle cx="231.68" cy="1651.58" r="4.96" fill="url(#gHiR)"/>
<text transform="translate(274.00,1627.90) scale(1.0,1.09)" font-size="29" stroke="#000">N=1</text>
<text transform="translate(274.00,1664.00) scale(1.0,1.09)" font-size="29" stroke="#000">N=55</text>
<text transform="translate(299.90,1808.30) scale(0.988,1.04)" font-size="27" stroke="#000"><tspan font-style="italic">y</tspan><tspan>=-126.040</tspan><tspan font-style="italic">x</tspan><tspan font-size="18" dy="-10">2</tspan><tspan dy="10">+984.205</tspan><tspan font-style="italic">x</tspan><tspan>+49.907 (R</tspan><tspan font-size="18" dy="-10">2</tspan><tspan dy="10">=0.9378)</tspan></text>
<line x1="499" y1="1701.5" x2="499" y2="1774.5" stroke="#000" stroke-width="2.6"/><path d="M499,1792 L492.8,1768.5 L499,1774.5 L505.2,1768.5 Z" fill="#000"/>
<text transform="translate(322.90,2035.80) scale(1.0,1.04)" font-size="27" fill="#f20000" stroke="#f20000"><tspan font-style="italic">y</tspan><tspan>=65.9481</tspan><tspan font-style="italic">x</tspan><tspan font-size="18" dy="-10">2</tspan><tspan dy="10">-243.9673</tspan><tspan font-style="italic">x</tspan><tspan>+1120.811 (R</tspan><tspan font-size="18" dy="-10">2</tspan><tspan dy="10">=0.9111)</tspan></text>
<line x1="438" y1="2097.3" x2="438" y2="2055.7" stroke="#f20000" stroke-width="2.6"/><path d="M438,2036.7 L431.6,2062.2 L438,2055.7 L444.4,2062.2 Z" fill="#f20000"/>
<text transform="translate(26.40,1901.00) rotate(-90) scale(0.95,1.0)" font-size="34.4" stroke="#000"><tspan font-style="italic">E</tspan> /mJ</text>
<text transform="translate(540.90,2300.10)" font-size="33.3" text-anchor="middle" stroke="#000">A /°</text>
<text transform="translate(537.90,2348.60) scale(0.96,1.0)" font-size="45.5" text-anchor="middle" stroke="#000">(c)</text>
</svg></body></html>
